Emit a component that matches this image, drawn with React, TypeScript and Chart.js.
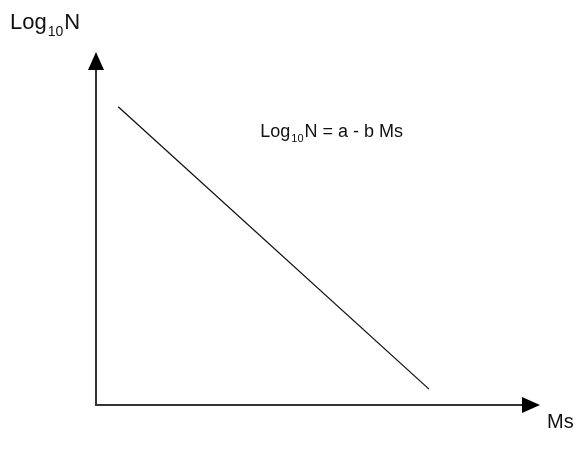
import React, { useEffect, useRef } from "react";
import { Chart, registerables } from "chart.js";
Chart.register(...registerables);

// Data (Ms vs Log10 N, arbitrary units)
const msValues = [0.5, 7.5];
const logNValues = [8.45, 0.45];

// Text labels
const xAxisLabel = "Ms";
const yLabelParts = ["Log", "10", "N"];
const equationParts = ["Log", "10", "N = a - b Ms"];
const equationAt = { x: 3.7, y: 7.6 };

const FONT = "'Liberation Sans', Arial, sans-serif";

function drawSubscripted(ctx: CanvasRenderingContext2D, parts: string[], x: number, y: number, size: number) {
  ctx.textBaseline = "alphabetic";
  ctx.textAlign = "left";
  ctx.font = `${size}px ${FONT}`;
  ctx.fillText(parts[0], x, y);
  let cx = x + ctx.measureText(parts[0]).width + 1;
  const sub = Math.round(size * 0.62);
  ctx.font = `${sub}px ${FONT}`;
  ctx.fillText(parts[1], cx, y + size * 0.32);
  cx += ctx.measureText(parts[1]).width + 1;
  ctx.font = `${size}px ${FONT}`;
  ctx.fillText(parts[2], cx, y);
}

export default function App() {
  const ref = useRef<HTMLCanvasElement>(null);
  useEffect(() => {
    document.body.style.margin = "0";
    const canvas = ref.current!;
    const axesPlugin = {
      id: "axesArrows",
      afterDatasetsDraw(chart: any) {
        const { ctx, chartArea } = chart;
        const { left, right, top, bottom } = chartArea;
        ctx.save();
        // axis lines
        ctx.strokeStyle = "#333";
        ctx.lineWidth = 2;
        ctx.beginPath();
        ctx.moveTo(left, top + 14);
        ctx.lineTo(left, bottom);
        ctx.lineTo(right - 14, bottom);
        ctx.stroke();
        // arrow heads
        ctx.fillStyle = "#000";
        ctx.beginPath();
        ctx.moveTo(left, top);
        ctx.lineTo(left - 8, top + 18);
        ctx.lineTo(left + 8, top + 18);
        ctx.closePath();
        ctx.fill();
        ctx.beginPath();
        ctx.moveTo(right, bottom);
        ctx.lineTo(right - 18, bottom - 8);
        ctx.lineTo(right - 18, bottom + 8);
        ctx.closePath();
        ctx.fill();
        // labels
        ctx.fillStyle = "#111";
        drawSubscripted(ctx, yLabelParts, 10, 29, 22);
        ctx.font = `20px ${FONT}`;
        ctx.textAlign = "left";
        ctx.textBaseline = "alphabetic";
        ctx.fillText(xAxisLabel, right + 7, bottom + 23);
        const ex = chart.scales.x.getPixelForValue(equationAt.x);
        const ey = chart.scales.y.getPixelForValue(equationAt.y);
        drawSubscripted(ctx, equationParts, ex, ey, 18);
        ctx.restore();
      },
    };
    const chart = new Chart(canvas, {
      type: "line",
      data: {
        datasets: [
          {
            data: msValues.map((x, i) => ({ x, y: logNValues[i] })),
            borderColor: "#111",
            borderWidth: 1.3,
            pointRadius: 0,
            fill: false,
          },
        ],
      },
      options: {
        responsive: false,
        animation: false,
        layout: { padding: { left: 96, right: 37, top: 52, bottom: 50 } },
        plugins: { legend: { display: false }, tooltip: { enabled: false } },
        scales: {
          x: { type: "linear", min: 0, max: 10, display: false },
          y: { type: "linear", min: 0, max: 10, display: false },
        },
      },
      plugins: [axesPlugin],
    });
    return () => chart.destroy();
  }, []);
  return <canvas ref={ref} width={577} height={455} style={{ display: "block" }} />;
}
